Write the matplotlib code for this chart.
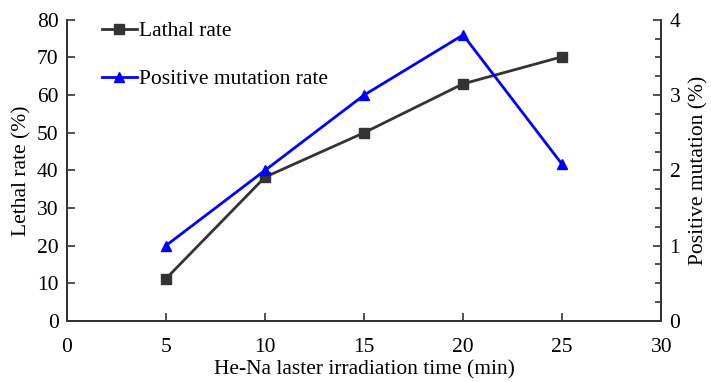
import numpy as np
import matplotlib.pyplot as plt
from matplotlib.ticker import MultipleLocator

plt.rcParams['font.family'] = ['Liberation Serif', 'DejaVu Serif']
plt.rcParams['font.size'] = 15.5

# data
times = [5, 10, 15, 20, 25]
lethal_rate = [11.2, 38.2, 50.0, 63.0, 70.2]
positive_mutation = [1.0, 2.0, 3.0, 3.8, 2.08]

fig = plt.figure(figsize=(7.11, 3.82), dpi=100)
ax = fig.add_axes([0.094, 0.160, 0.836, 0.788])
ax2 = ax.twinx()

l1, = ax.plot(times, lethal_rate, color='#333333', lw=2, marker='s', ms=7,
              label='Lathal rate')
l2, = ax2.plot(times, positive_mutation, color='#0000ff', lw=2, marker='^', ms=7,
               label='Positive mutation rate')

ax.set_xlim(0, 30)
ax.set_ylim(0, 80)
ax2.set_ylim(0, 4)
ax.xaxis.set_major_locator(MultipleLocator(5))
ax.yaxis.set_major_locator(MultipleLocator(10))
ax2.yaxis.set_major_locator(MultipleLocator(1))
ax2.yaxis.set_minor_locator(MultipleLocator(0.25))

for a in (ax, ax2):
    a.spines['top'].set_visible(False)
    for s in a.spines.values():
        s.set_linewidth(1.3)
        s.set_color('#333333')

ax.tick_params(axis='both', direction='in', length=6, width=1.2, colors='#333333',
               labelcolor='black', top=False, right=False)
ax.tick_params(axis='x', pad=12)
ax.tick_params(axis='y', pad=6)
ax2.tick_params(axis='y', which='major', direction='in', length=6, width=1.2,
                colors='#333333', labelcolor='black', pad=6)
ax2.tick_params(axis='y', which='minor', direction='in', length=4, width=1.2,
                colors='#333333')

ax.set_xlabel('He-Na laster irradiation time (min)', labelpad=3)
ax.set_ylabel('Lethal rate (%)', labelpad=4)
ax2.set_ylabel('Positive mutation (%)', labelpad=6)

ax.legend([l1, l2], ['Lathal rate', 'Positive mutation rate'], loc='upper left',
          bbox_to_anchor=(0.027, 1.06), frameon=False, labelspacing=1.3,
          handlelength=1.6, handletextpad=0.1, fontsize=15.5)

fig.savefig('out.png', dpi=100)
